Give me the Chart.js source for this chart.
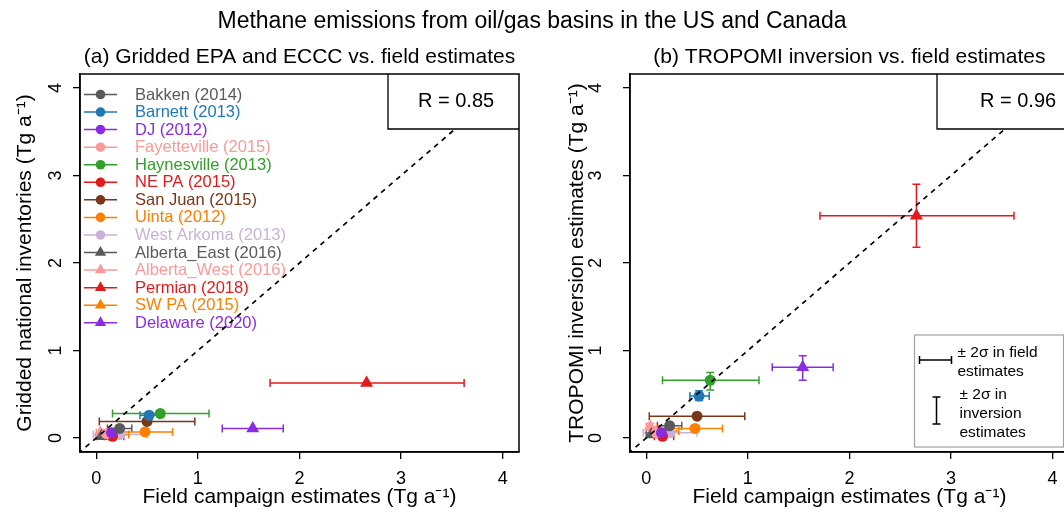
<!DOCTYPE html>
<html><head><meta charset="utf-8">
<script src="https://cdn.jsdelivr.net/npm/chart.js@4"></script>
<style>
html,body{margin:0;padding:0;overflow:hidden;background:#fff;width:1064px;height:513px;position:relative}
#mainTitle{position:absolute;left:0;top:7px;width:1064px;text-align:center;font:23px "Liberation Sans",Arial,sans-serif;line-height:26px;color:#000;z-index:2}
#ca{position:absolute;left:0;top:0}
#cb{position:absolute;left:540px;top:0}
</style></head>
<body>
<div id="mainTitle">Methane emissions from oil/gas basins in the US and Canada</div>
<canvas id="ca" width="532" height="513"></canvas>
<canvas id="cb" width="560" height="513"></canvas>
<script>
// ---- data ----
const basins = ['Bakken (2014)','Barnett (2013)','DJ (2012)','Fayetteville (2015)','Haynesville (2013)','NE PA (2015)','San Juan (2015)','Uinta (2012)','West Arkoma (2013)','Alberta_East (2016)','Alberta_West (2016)','Permian (2018)','SW PA (2015)','Delaware (2020)'];
const colors = ['#5a5a5a','#1f78b4','#8a2be2','#fb9a99','#33a02c','#e31a1c','#7a3618','#ff7f00','#cab2d6','#5a5a5a','#fb9a99','#e31a1c','#ff7f00','#8a2be2'];
const markers = ['circle','circle','circle','circle','circle','circle','circle','circle','circle','triangle','triangle','triangle','triangle','triangle'];
const fieldEst = [0.23,0.52,0.15,0.10,0.63,0.16,0.50,0.48,0.23,0.05,0.04,2.66,0.20,1.54];
const fieldLo  = [0.11,0.43,0.06,0.03,0.16,0.08,0.03,0.12,-0.03,0.00,0.00,1.71,0.10,1.24];
const fieldHi  = [0.35,0.62,0.25,0.18,1.11,0.27,0.97,0.75,0.50,0.12,0.10,3.62,0.32,1.84];
const inventoryEst = [0.11,0.26,0.06,0.05,0.28,0.02,0.19,0.07,0.04,0.02,0.06,0.63,0.04,0.11];
const tropomiEst = [0.14,0.48,0.06,0.06,0.66,0.02,0.25,0.11,0.06,0.04,0.13,2.54,0.08,0.81];
const tropomiLo  = [0.11,0.43,0.03,0.03,0.55,0.00,0.22,0.08,0.03,0.02,0.09,2.18,0.05,0.66];
const tropomiHi  = [0.17,0.54,0.09,0.09,0.75,0.04,0.28,0.14,0.09,0.06,0.17,2.90,0.11,0.94];
const tickValues = [0,1,2,3,4];
const rLabels = ['R = 0.85','R = 0.96'];
const panelTitles = ['(a) Gridded EPA and ECCC vs. field estimates','(b) TROPOMI inversion vs. field estimates'];
const yTitles = ['Gridded national inventories (Tg a\u207B\u00B9)','TROPOMI inversion estimates (Tg a\u207B\u00B9)'];
const xTitle = 'Field campaign estimates (Tg a\u207B\u00B9)';
const errLegendLines = [['\u00B1 2\u03C3 in field','estimates'],['\u00B1 2\u03C3 in','inversion','estimates']];

const FONT = '"Liberation Sans", Arial, sans-serif';
Chart.defaults.font.family = FONT;
Chart.defaults.color = '#000';

function buildDatasets(yVals, yLo, yHi){
  const ds = basins.map((name,i)=>({
    type:'scatter', label:name,
    data:[{x:fieldEst[i], y:yVals[i]}],
    pointStyle: markers[i],
    pointRadius: markers[i]==='triangle' ? 7.5 : 5.5,
    pointHoverRadius: markers[i]==='triangle' ? 7.5 : 5.5,
    backgroundColor: colors[i], borderColor: colors[i], borderWidth: 0,
    err: {xLo: fieldLo[i], xHi: fieldHi[i], yLo: yLo ? yLo[i] : null, yHi: yHi ? yHi[i] : null},
    order: 1
  }));
  ds.push({type:'line', label:'1:1', data:[{x:-1,y:-1},{x:5,y:5}], borderColor:'#000', borderWidth:1.7,
    borderDash:[5,5], pointRadius:0, fill:false, order:0, tension:0});
  return ds;
}

const framePlugin = {
  id:'frame',
  afterDraw(chart){
    const {ctx, chartArea:a} = chart;
    ctx.save(); ctx.strokeStyle='#000'; ctx.lineWidth=1.5;
    ctx.strokeRect(a.left, a.top, a.right-a.left, a.bottom-a.top);
    ctx.restore();
  }
};

// rotated y tick labels (R style), placed through the y scale
const yLabelPlugin = {
  id:'yLabels',
  afterDraw(chart, args, opts){
    const {ctx, chartArea:a, scales:{y}} = chart;
    ctx.save();
    ctx.fillStyle='#000'; ctx.font='18px ' + FONT; ctx.textAlign='center'; ctx.textBaseline='middle';
    y.ticks.forEach(t=>{
      const py = y.getPixelForValue(t.value);
      ctx.save();
      ctx.translate(a.left - opts.offset, py);
      ctx.rotate(-Math.PI/2);
      ctx.fillText(String(t.value), 0, 1);
      ctx.restore();
    });
    ctx.restore();
  }
};

const errorBarPlugin = {
  id:'errorBars',
  beforeDatasetsDraw(chart){
    const {ctx, scales:{x,y}} = chart;
    ctx.save(); ctx.lineWidth = 1.5;
    chart.data.datasets.forEach(ds=>{
      if(!ds.err) return;
      const e = ds.err, p = ds.data[0];
      const px = x.getPixelForValue(p.x), py = y.getPixelForValue(p.y);
      const x0 = x.getPixelForValue(e.xLo), x1 = x.getPixelForValue(e.xHi);
      ctx.strokeStyle = ds.borderColor;
      ctx.beginPath();
      ctx.moveTo(x0,py); ctx.lineTo(x1,py);
      ctx.moveTo(x0,py-4); ctx.lineTo(x0,py+4);
      ctx.moveTo(x1,py-4); ctx.lineTo(x1,py+4);
      if(e.yLo!=null){
        const y0 = y.getPixelForValue(e.yLo), y1 = y.getPixelForValue(e.yHi);
        ctx.moveTo(px,y0); ctx.lineTo(px,y1);
        ctx.moveTo(px-4,y0); ctx.lineTo(px+4,y0);
        ctx.moveTo(px-4,y1); ctx.lineTo(px+4,y1);
      }
      ctx.stroke();
    });
    ctx.restore();
  }
};

const insideLegendPlugin = {
  id:'insideLegend',
  beforeDatasetsDraw(chart, args, opts){
    if(!opts.show) return;
    const {ctx, chartArea:a} = chart;
    ctx.save();
    ctx.font = '16.5px ' + FONT;
    ctx.textBaseline = 'middle'; ctx.textAlign = 'left';
    basins.forEach((name,i)=>{
      const yy = a.top + 20.5 + i*17.56;
      const x0 = a.left + 4, x1 = a.left + 37, xm = a.left + 20.5;
      ctx.strokeStyle = colors[i]; ctx.lineWidth = 1.5;
      ctx.beginPath(); ctx.moveTo(x0,yy); ctx.lineTo(x1,yy); ctx.stroke();
      ctx.fillStyle = colors[i]; ctx.strokeStyle = colors[i];
      Chart.helpers.drawPoint(ctx, {pointStyle:markers[i], rotation:0, borderWidth:0,
        radius: markers[i]==='triangle' ? 6.5 : 4.8}, xm, yy);
      ctx.fillStyle = colors[i];
      ctx.fillText(name, a.left + 55, yy+0.5);
    });
    ctx.restore();
  }
};

const rBoxPlugin = {
  id:'rBox',
  afterDatasetsDraw(chart, args, opts){
    const {ctx, chartArea:a} = chart;
    const left = opts.fromLeft != null ? a.left + opts.fromLeft : a.right - opts.width;
    const right = Math.min(a.right, chart.width);
    ctx.save();
    ctx.fillStyle = '#fff'; ctx.strokeStyle = '#000'; ctx.lineWidth = 1.3;
    ctx.fillRect(left, a.top, right-left, 55);
    ctx.beginPath();
    ctx.moveTo(left, a.top); ctx.lineTo(left, a.top+55); ctx.lineTo(right, a.top+55);
    ctx.stroke();
    ctx.fillStyle = '#000'; ctx.font = '20px ' + FONT; ctx.textBaseline='middle'; ctx.textAlign='left';
    ctx.fillText(opts.text, left + opts.textOffset, a.top + 27.5);
    ctx.restore();
  }
};

const errLegendPlugin = {
  id:'errLegend',
  afterDatasetsDraw(chart, args, opts){
    if(!opts.show) return;
    const {ctx, chartArea:a} = chart;
    const bx = a.left + 284.5, by = a.top + 261, bw = 149, bh = 112;
    ctx.save();
    ctx.fillStyle='#fff'; ctx.fillRect(bx,by,bw,bh);
    ctx.strokeStyle='#a0a0a0'; ctx.lineWidth=1.2; ctx.strokeRect(bx,by,bw,bh);
    ctx.strokeStyle='#000'; ctx.lineWidth=1.5;
    const hy = by + 25;
    ctx.beginPath();
    ctx.moveTo(bx+5,hy); ctx.lineTo(bx+37,hy);
    ctx.moveTo(bx+5,hy-4); ctx.lineTo(bx+5,hy+4);
    ctx.moveTo(bx+37,hy-4); ctx.lineTo(bx+37,hy+4);
    const vx = bx + 22, vy0 = by + 62, vy1 = by + 89;
    ctx.moveTo(vx,vy0); ctx.lineTo(vx,vy1);
    ctx.moveTo(vx-4,vy0); ctx.lineTo(vx+4,vy0);
    ctx.moveTo(vx-4,vy1); ctx.lineTo(vx+4,vy1);
    ctx.stroke();
    ctx.fillStyle='#000'; ctx.font='15.5px ' + FONT; ctx.textBaseline='middle'; ctx.textAlign='left';
    errLegendLines[0].forEach((t,j)=>ctx.fillText(t, bx+43, by+18+j*18.5));
    errLegendLines[1].forEach((t,j)=>ctx.fillText(t, bx+45, by+60+j*18.7));
    ctx.restore();
  }
};

function makeChart(canvasId, panel){
  const isA = panel === 0;
  const yAxisWidth = isA ? 80 : 90;
  const yTitlePad = isA ? 12.4 : 24.9;
  return new Chart(document.getElementById(canvasId), {
    type:'scatter',
    data:{datasets: isA ? buildDatasets(inventoryEst) : buildDatasets(tropomiEst, tropomiLo, tropomiHi)},
    options:{
      responsive:false, animation:false, devicePixelRatio:1,
      layout:{padding:{left:0, top:0, bottom:0, right: isA ? 13 : 31.2}},
      plugins:{
        legend:{display:false}, tooltip:{enabled:false},
        title:{display:true, text:panelTitles[panel], fullSize:false, color:'#000',
          font:{size:21, weight:'normal', family:FONT}, padding:{top:44.4, bottom:4.4}},
        insideLegend:{show:isA},
        errLegend:{show:!isA},
        yLabels:{offset: isA ? 24.5 : 34.5},
        rBox: isA ? {width:131, textOffset:30, text:rLabels[0]} : {fromLeft:307, textOffset:43, text:rLabels[1]}
      },
      scales:{
        x:{type:'linear', min:-0.16, max:4.16,
          afterBuildTicks(s){ s.ticks = tickValues.map(v=>({value:v})); },
          afterFit(s){ s.height = 61; },
          grid:{drawOnChartArea:false, drawTicks:true, tickLength:7, color:'#000', lineWidth:1.3},
          border:{display:true, color:'#000', width:1.5},
          ticks:{font:{size:18}, color:'#000', padding:9.2, maxRotation:0, autoSkip:false},
          title:{display:true, text:xTitle, color:'#000', font:{size:21}, padding:{top:0, bottom:3.4}}
        },
        y:{type:'linear', min:-0.16, max:4.16,
          afterBuildTicks(s){ s.ticks = tickValues.map(v=>({value:v})); },
          afterFit(s){ s.width = yAxisWidth; },
          grid:{drawOnChartArea:false, drawTicks:true, tickLength:7, color:'#000', lineWidth:1.3},
          border:{display:true, color:'#000', width:1.5},
          ticks:{display:false},
          title:{display:true, text:yTitles[panel], color:'#000', font:{size:21}, padding:{top:yTitlePad, bottom:0}}
        }
      }
    },
    plugins:[errorBarPlugin, insideLegendPlugin, rBoxPlugin, errLegendPlugin, framePlugin, yLabelPlugin]
  });
}
makeChart('ca', 0);
makeChart('cb', 1);
</script>
</body></html>
